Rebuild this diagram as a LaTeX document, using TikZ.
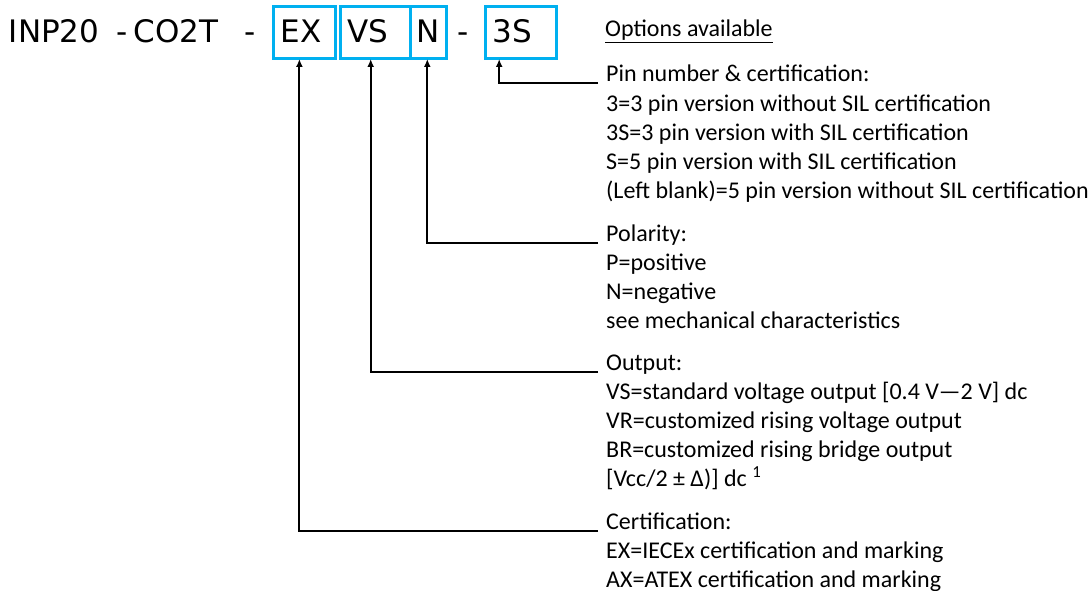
\documentclass[tikz,border=0pt]{standalone}
\usepackage{fontspec}
\setmainfont{Carlito}
\newfontfamily\codefont{DejaVu Sans}
\usetikzlibrary{arrows.meta, positioning}
\definecolor{boxblue}{RGB}{0,176,240}
\tikzset{
	code/.style={font=\codefont\fontsize{31}{37}\selectfont, anchor=base west, inner sep=0},
	codebox/.style={draw=boxblue, line width=3pt, font=\codefont\fontsize{31}{37}\selectfont, anchor=west, align=left, minimum height=52pt, text height=22.7pt, text depth=3.3pt, inner ysep=0, inner xsep=7pt},
	head/.style={font=\fontsize{24}{29}\selectfont, anchor=base west, inner sep=0},
	opts/.style={font=\fontsize{24}{29}\selectfont, align=left, inner sep=0},
	link/.style={line width=2pt, -{Latex[length=8pt,width=7pt]}, shorten >=-1pt}
}
\begin{document}
\begin{tikzpicture}[x=1pt, y=-1pt]
	\useasboundingbox (0,0) rectangle (1092,591);
	% part number
	\node[code] (inp) at (8.7,42.2) {INP20};
	\node[code] (dash1) at (116.6,42.2) {-};
	\node[code] (co2t) at (133.3,42.2) {CO2T};
	\node[code] (dash2) at (244.6,42.2) {-};
	\node[codebox, text width=47.6pt] (ex) at (272.2,32.5) {EX};
	\node[codebox, text width=56.8pt] (vs) at (338.5,32.5) {VS};
	\node[codebox, text width=23.9pt, inner xsep=6pt] (pol) at (409.3,32.5) {N};
	\node[code] (dash3) at (457.6,42.2) {-};
	\node[codebox, text width=56.3pt] (pins) at (484.2,32.5) {3S};
	
	% options
	\node[head] (avail) at (605,36.7) {\underline{Options available}};
	\node[head] (pinhead) at (606,82) {Pin number \& certification:};
	\node[opts, below right=9pt and 0pt of pinhead.base west] (pinopts) {\rule{0pt}{20pt}3=3 pin version without SIL certification\\3S=3 pin version with SIL certification\\S=5 pin version with SIL certification\\(Left blank)=5 pin version without SIL certification};
	\node[head] (polhead) at (606,241) {Polarity:};
	\node[opts, below right=9pt and 0pt of polhead.base west] (polopts) {\rule{0pt}{20pt}P=positive\\N=negative\\see mechanical characteristics};
	\node[head] (outhead) at (606,370.5) {Output:};
	\node[opts, below right=9pt and 0pt of outhead.base west] (outopts) {\rule{0pt}{20pt}VS=standard voltage output [0.4 V—2 V] dc\\VR=customized rising voltage output\\BR=customized rising bridge output\\{[}Vcc/2 ± Δ)] dc \textsuperscript{1}};
	\node[head] (certhead) at (606,529.5) {Certification:};
	\node[opts, below right=9pt and 0pt of certhead.base west] (certopts) {\rule{0pt}{20pt}EX=IECEx certification and marking\\AX=ATEX certification and marking};
	
	\draw[link] ([xshift=-8pt, yshift=-1.5pt]pinhead.base west) -| ([xshift=15pt]pins.south west);
	\draw[link] ([xshift=-8pt, yshift=-1.5pt]polhead.base west) -| ([xshift=18pt]pol.south west);
	\draw[link] ([xshift=-8pt, yshift=-1.5pt]outhead.base west) -| ([xshift=32.2pt]vs.south west);
	\draw[link] ([xshift=-8pt, yshift=-1.5pt]certhead.base west) -| ([xshift=27.2pt]ex.south west);
\end{tikzpicture}
\end{document}
